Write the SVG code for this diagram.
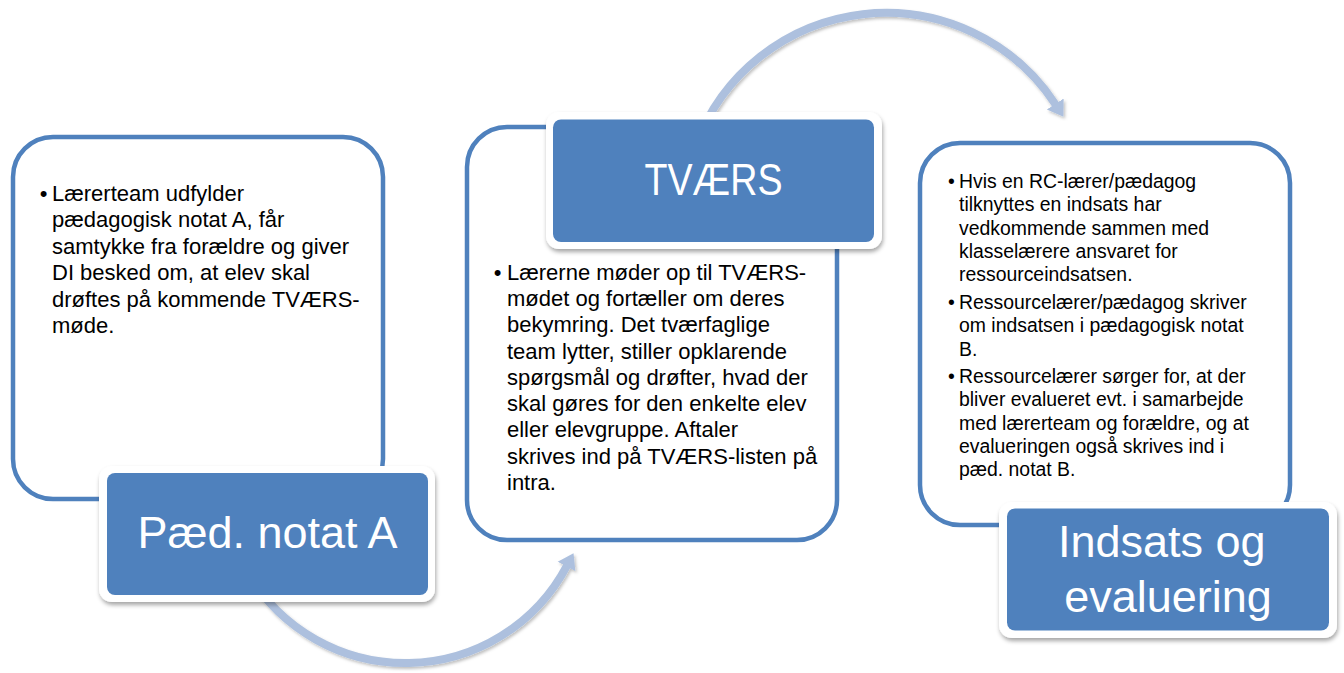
<svg xmlns="http://www.w3.org/2000/svg" width="1344" height="673" viewBox="0 0 1344 673">
  <defs>
    <style>
      .box { fill: #FFFFFF; stroke: #4F81BD; stroke-width: 4.5; }
      .lblOuter { fill: #FFFFFF; }
      .lblInner { fill: #4F81BD; }
      .lbl { font-family: "Liberation Sans", Arial, sans-serif; font-size: 45px; fill: #FFFFFF; text-anchor: middle; }
      .body { font-family: "Liberation Sans", Arial, sans-serif; font-size: 22px; fill: #000000; }
      .bodyS { font-family: "Liberation Sans", Arial, sans-serif; font-size: 19.4px; fill: #000000; }
      .arc { fill: none; stroke: #ADC0DE; stroke-width: 8; }
    </style>
    <filter id="shadow" x="-20%" y="-20%" width="140%" height="150%">
      <feDropShadow dx="1" dy="3" stdDeviation="2" flood-color="#000000" flood-opacity="0.35"/>
    </filter>
    <filter id="arcShadow" x="-10%" y="-10%" width="120%" height="130%">
      <feDropShadow dx="1.5" dy="2" stdDeviation="1.5" flood-color="#000000" flood-opacity="0.25"/>
    </filter>
    <marker id="head" markerUnits="userSpaceOnUse" viewBox="0 -11 16 22" refX="1" refY="0" markerWidth="16" markerHeight="22" orient="auto">
      <path d="M0,-10 L15,0 L0,10 Z" fill="#ADC0DE"/>
    </marker>
  </defs>

  <g id="connectors" filter="url(#arcShadow)">
    <path id="arc-a-to-tvaers" class="arc" d="M247.2,571.8 A182.7,182.7 0 0 0 567.0,565.6" marker-end="url(#head)"/>
    <path id="arc-tvaers-to-indsats" class="arc" d="M695.5,146.3 A202.7,202.7 0 0 1 1055.8,104.9" marker-end="url(#head)"/>
  </g>

  <g id="node-paed-notat-a">
    <rect class="box" x="13" y="137" width="370" height="362" rx="40" ry="40"/>
    <text class="body" x="43.5" y="200.5" text-anchor="middle">•</text>
    <text class="body">
      <tspan x="52" y="200.5">Lærerteam udfylder</tspan>
      <tspan x="52" y="227">pædagogisk notat A, får</tspan>
      <tspan x="52" y="253.5">samtykke fra forældre og giver</tspan>
      <tspan x="52" y="280">DI besked om, at elev skal</tspan>
      <tspan x="52" y="306.5">drøftes på kommende TVÆRS-</tspan>
      <tspan x="52" y="333">møde.</tspan>
    </text>
    <rect class="lblOuter" x="99" y="466" width="336" height="136" rx="13" ry="13" filter="url(#shadow)"/>
    <rect class="lblInner" x="107" y="473" width="321" height="122" rx="8" ry="8"/>
    <text class="lbl" x="267.5" y="548">Pæd. notat A</text>
  </g>

  <g id="node-tvaers">
    <rect class="box" x="467" y="127" width="370" height="413" rx="40" ry="40"/>
    <text class="body" x="497.5" y="280" text-anchor="middle">•</text>
    <text class="body">
      <tspan x="507" y="280">Lærerne møder op til TVÆRS-</tspan>
      <tspan x="507" y="306">mødet og fortæller om deres</tspan>
      <tspan x="507" y="332">bekymring. Det tværfaglige</tspan>
      <tspan x="507" y="358.5">team lytter, stiller opklarende</tspan>
      <tspan x="507" y="385">spørgsmål og drøfter, hvad der</tspan>
      <tspan x="507" y="411">skal gøres for den enkelte elev</tspan>
      <tspan x="507" y="437">eller elevgruppe. Aftaler</tspan>
      <tspan x="507" y="463.5">skrives ind på TVÆRS-listen på</tspan>
      <tspan x="507" y="489.5">intra.</tspan>
    </text>
    <rect class="lblOuter" x="546" y="112" width="336" height="137" rx="13" ry="13" filter="url(#shadow)"/>
    <rect class="lblInner" x="553" y="119.5" width="321" height="122.5" rx="8" ry="8"/>
    <text class="lbl" x="713.5" y="195" textLength="138" lengthAdjust="spacingAndGlyphs">TVÆRS</text>
  </g>

  <g id="node-indsats">
    <rect class="box" x="920" y="143" width="370" height="382" rx="40" ry="40"/>
    <text class="bodyS" x="951.5" y="188" text-anchor="middle">•</text>
    <text class="bodyS">
      <tspan x="959" y="188">Hvis en RC-lærer/pædagog</tspan>
      <tspan x="959" y="211.3">tilknyttes en indsats har</tspan>
      <tspan x="959" y="234.7">vedkommende sammen med</tspan>
      <tspan x="959" y="258">klasselærere ansvaret for</tspan>
      <tspan x="959" y="281.3">ressourceindsatsen.</tspan>
    </text>
    <text class="bodyS" x="951.5" y="309" text-anchor="middle">•</text>
    <text class="bodyS">
      <tspan x="959" y="309">Ressourcelærer/pædagog skriver</tspan>
      <tspan x="959" y="332.3">om indsatsen i pædagogisk notat</tspan>
      <tspan x="959" y="355.7">B.</tspan>
    </text>
    <text class="bodyS" x="951.5" y="383" text-anchor="middle">•</text>
    <text class="bodyS">
      <tspan x="959" y="383">Ressourcelærer sørger for, at der</tspan>
      <tspan x="959" y="406.3">bliver evalueret evt. i samarbejde</tspan>
      <tspan x="959" y="429.7">med lærerteam og forældre, og at</tspan>
      <tspan x="959" y="453">evalueringen også skrives ind i</tspan>
      <tspan x="959" y="476.3">pæd. notat B.</tspan>
    </text>
    <rect class="lblOuter" x="999" y="502" width="338" height="136" rx="13" ry="13" filter="url(#shadow)"/>
    <rect class="lblInner" x="1007" y="508.5" width="322" height="122" rx="8" ry="8"/>
    <text class="lbl">
      <tspan x="1168" y="557">Indsats og</tspan>
      <tspan x="1168" y="612">evaluering</tspan>
    </text>
  </g>
</svg>
